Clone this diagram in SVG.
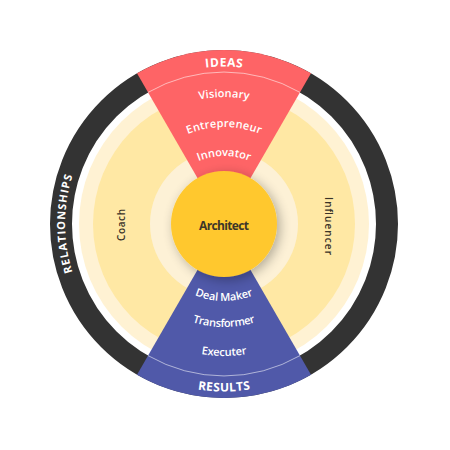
<svg xmlns="http://www.w3.org/2000/svg" width="450" height="450" viewBox="0 0 450 450">
  <style>
    .w { fill: #ffffff; font-family: "Open Sans", "Liberation Sans", sans-serif; font-size: 11px; font-weight: 600; }
    .cap { fill: #ffffff; font-family: "Open Sans", "Liberation Sans", sans-serif; font-size: 12px; font-weight: 700; }
    .d { fill: #3a3328; font-family: "Open Sans", "Liberation Sans", sans-serif; font-size: 10px; font-weight: 600; }
    .div { fill: none; stroke: #ffffff; stroke-opacity: 0.55; stroke-width: 1; }
  </style>
  <defs>
    <filter id="sh" x="-40%" y="-40%" width="180%" height="180%">
      <feGaussianBlur in="SourceAlpha" stdDeviation="6"/>
      <feOffset dx="3" dy="3" result="b"/>
      <feComponentTransfer><feFuncA type="linear" slope="0.3"/></feComponentTransfer>
      <feMerge><feMergeNode/><feMergeNode in="SourceGraphic"/></feMerge>
    </filter>
    <path id="aIdeas" d="M 66.5,224 A 157.5 157.5 0 0 1 381.5,224"/>
    <path id="aVis" d="M 97,224 A 127 127 0 0 1 351,224"/>
    <path id="aEnt" d="M 127,224 A 97 97 0 0 1 321,224"/>
    <path id="aInn" d="M 156,224 A 68 68 0 0 1 292,224"/>
    <path id="aDeal" d="M 147,224 A 77 77 0 0 0 301,224"/>
    <path id="aTra" d="M 121,224 A 103 103 0 0 0 327,224"/>
    <path id="aExe" d="M 92,224 A 132 132 0 0 0 356,224"/>
    <path id="aRes" d="M 56.5,224 A 167.5 167.5 0 0 0 391.5,224"/>
    <path id="aRel" d="M 224,383 A 159 159 0 0 1 224,65"/>
  </defs>

  <g id="relationships">
    <circle cx="224" cy="224" r="163" fill="none" stroke="#333333" stroke-width="22"/>
    <text class="cap" style="font-size:11px"><textPath href="#aRel" startOffset="50%" text-anchor="middle" textLength="98">RELATIONSHIPS</textPath></text>
  </g>

  <g id="rings">
    <circle cx="224" cy="224" r="145" fill="#FFF2D3"/>
    <circle cx="224" cy="224" r="131" fill="#FFE8A4"/>
    <circle cx="224" cy="224" r="74" fill="#FDF1D6"/>
  </g>

  <g id="coach">
    <text class="d" x="121" y="225" transform="rotate(-90 121 225)" text-anchor="middle" dominant-baseline="central" textLength="32">Coach</text>
  </g>
  <g id="influencer">
    <text class="d" x="329" y="226" transform="rotate(90 329 226)" text-anchor="middle" dominant-baseline="central" textLength="58">Influencer</text>
  </g>

  <g id="ideas">
    <path d="M 224,224 L 137,73.3 A 174 174 0 0 1 311,73.3 Z" fill="#FE6466"/>
    <path class="div" d="M 148,92.4 A 152 152 0 0 1 300,92.4"/>
    <text class="cap"><textPath href="#aIdeas" startOffset="50%" text-anchor="middle" textLength="37">IDEAS</textPath></text>
    <text class="w"><textPath href="#aVis" startOffset="50%" text-anchor="middle" textLength="50">Visionary</textPath></text>
    <text class="w"><textPath href="#aEnt" startOffset="50%" text-anchor="middle" textLength="74">Entrepreneur</textPath></text>
    <text class="w"><textPath href="#aInn" startOffset="50%" text-anchor="middle" textLength="52">Innovator</textPath></text>
  </g>

  <g id="results">
    <path d="M 224,224 L 137,374.7 A 174 174 0 0 0 311,374.7 Z" fill="#5059A9"/>
    <path class="div" d="M 148,355.6 A 152 152 0 0 0 300,355.6"/>
    <text class="w"><textPath href="#aDeal" startOffset="50%" text-anchor="middle" textLength="60">Deal Maker</textPath></text>
    <text class="w"><textPath href="#aTra" startOffset="50%" text-anchor="middle" textLength="64">Transformer</textPath></text>
    <text class="w"><textPath href="#aExe" startOffset="50%" text-anchor="middle" textLength="46">Executer</textPath></text>
    <text class="cap"><textPath href="#aRes" startOffset="50%" text-anchor="middle" textLength="53">RESULTS</textPath></text>
  </g>

  <g id="architect">
    <circle cx="224" cy="224" r="53" fill="#FFC82E" filter="url(#sh)"/>
    <text x="224" y="225" text-anchor="middle" dominant-baseline="central" textLength="50" style="fill:#3d3629;font-family:'Open Sans','Liberation Sans',sans-serif;font-size:12px;font-weight:700">Architect</text>
  </g>

  <g id="connectors"/>
</svg>
